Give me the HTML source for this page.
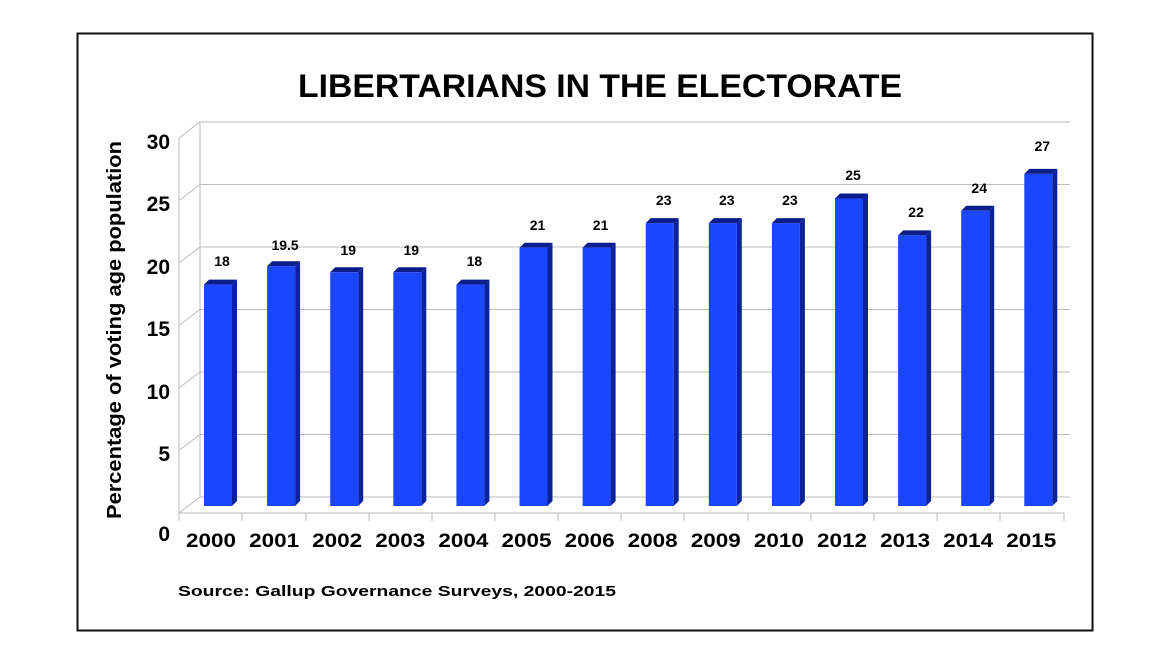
<!DOCTYPE html>
<html><head><meta charset="utf-8"><style>
html,body{margin:0;padding:0;background:#fff;}
svg{display:block;font-family:"Liberation Sans",sans-serif;font-weight:bold;}
</style></head><body>
<svg width="1170" height="663" viewBox="0 0 1170 663" xmlns="http://www.w3.org/2000/svg">
<rect x="77.5" y="33.5" width="1015" height="597" fill="#fff" stroke="#111" stroke-width="2"/>
<text x="600" y="97" font-size="32" text-anchor="middle" textLength="604" lengthAdjust="spacingAndGlyphs" font-weight="900">LIBERTARIANS IN THE ELECTORATE</text>
<g stroke="#bbb" stroke-width="1" fill="none">
<path d="M200 122H1070M200 184.5H1070M200 247H1070M200 309.5H1070M200 372H1070M200 434.5H1070M200 497H1070"/>
<path d="M200 122V497M179 513L200 497M179 138L200 122M179 200.5L200 184.5M179 263L200 247M179 325.5L200 309.5M179 388L200 372M179 450.5L200 434.5"/>
<path d="M179 513H1064M179 138V513"/>
<path d="M179 513v8M242 513v8M306 513v8M369 513v8M432 513v8M495 513v8M558 513v8M621 513v8M684 513v8M748 513v8M811 513v8M874 513v8M937 513v8M1000 513v8M1064 513v8"/>
</g>
<g font-size="21" text-anchor="end">
<text x="170" y="149">30</text><text x="170" y="211">25</text><text x="170" y="274">20</text><text x="170" y="336">15</text><text x="170" y="399">10</text><text x="170" y="461">5</text><text x="170" y="541">0</text>
</g>
<text transform="translate(121,330) rotate(-90)" font-size="20" text-anchor="middle" textLength="378" lengthAdjust="spacingAndGlyphs">Percentage of voting age population</text>

<g font-size="14" text-anchor="middle">
<g transform="translate(204,0)"><polygon points="28,284.6 33,279.6 33,501 28,506" fill="#0c2299"/><polygon points="0,284.6 5,279.6 33,279.6 28,284.6" fill="#0a1d8a"/><rect x="0" y="284.6" width="28" height="221.4" fill="#1b46ff"/><text x="18" y="266">18</text></g>
<g transform="translate(267.1,0)"><polygon points="28,266.2 33,261.2 33,501 28,506" fill="#0c2299"/><polygon points="0,266.2 5,261.2 33,261.2 28,266.2" fill="#0a1d8a"/><rect x="0" y="266.2" width="28" height="239.8" fill="#1b46ff"/><text x="18" y="250">19.5</text></g>
<g transform="translate(330.2,0)"><polygon points="28,272.3 33,267.3 33,501 28,506" fill="#0c2299"/><polygon points="0,272.3 5,267.3 33,267.3 28,272.3" fill="#0a1d8a"/><rect x="0" y="272.3" width="28" height="233.7" fill="#1b46ff"/><text x="18" y="255">19</text></g>
<g transform="translate(393.3,0)"><polygon points="28,272.3 33,267.3 33,501 28,506" fill="#0c2299"/><polygon points="0,272.3 5,267.3 33,267.3 28,272.3" fill="#0a1d8a"/><rect x="0" y="272.3" width="28" height="233.7" fill="#1b46ff"/><text x="18" y="255">19</text></g>
<g transform="translate(456.4,0)"><polygon points="28,284.6 33,279.6 33,501 28,506" fill="#0c2299"/><polygon points="0,284.6 5,279.6 33,279.6 28,284.6" fill="#0a1d8a"/><rect x="0" y="284.6" width="28" height="221.4" fill="#1b46ff"/><text x="18" y="266">18</text></g>
<g transform="translate(519.5,0)"><polygon points="28,247.7 33,242.7 33,501 28,506" fill="#0c2299"/><polygon points="0,247.7 5,242.7 33,242.7 28,247.7" fill="#0a1d8a"/><rect x="0" y="247.7" width="28" height="258.3" fill="#1b46ff"/><text x="18" y="230">21</text></g>
<g transform="translate(582.6,0)"><polygon points="28,247.7 33,242.7 33,501 28,506" fill="#0c2299"/><polygon points="0,247.7 5,242.7 33,242.7 28,247.7" fill="#0a1d8a"/><rect x="0" y="247.7" width="28" height="258.3" fill="#1b46ff"/><text x="18" y="230">21</text></g>
<g transform="translate(645.7,0)"><polygon points="28,223.1 33,218.1 33,501 28,506" fill="#0c2299"/><polygon points="0,223.1 5,218.1 33,218.1 28,223.1" fill="#0a1d8a"/><rect x="0" y="223.1" width="28" height="282.9" fill="#1b46ff"/><text x="18" y="205">23</text></g>
<g transform="translate(708.8,0)"><polygon points="28,223.1 33,218.1 33,501 28,506" fill="#0c2299"/><polygon points="0,223.1 5,218.1 33,218.1 28,223.1" fill="#0a1d8a"/><rect x="0" y="223.1" width="28" height="282.9" fill="#1b46ff"/><text x="18" y="205">23</text></g>
<g transform="translate(771.9,0)"><polygon points="28,223.1 33,218.1 33,501 28,506" fill="#0c2299"/><polygon points="0,223.1 5,218.1 33,218.1 28,223.1" fill="#0a1d8a"/><rect x="0" y="223.1" width="28" height="282.9" fill="#1b46ff"/><text x="18" y="205">23</text></g>
<g transform="translate(835,0)"><polygon points="28,198.5 33,193.5 33,501 28,506" fill="#0c2299"/><polygon points="0,198.5 5,193.5 33,193.5 28,198.5" fill="#0a1d8a"/><rect x="0" y="198.5" width="28" height="307.5" fill="#1b46ff"/><text x="18" y="180">25</text></g>
<g transform="translate(898.1,0)"><polygon points="28,235.4 33,230.4 33,501 28,506" fill="#0c2299"/><polygon points="0,235.4 5,230.4 33,230.4 28,235.4" fill="#0a1d8a"/><rect x="0" y="235.4" width="28" height="270.6" fill="#1b46ff"/><text x="18" y="217">22</text></g>
<g transform="translate(961.2,0)"><polygon points="28,210.8 33,205.8 33,501 28,506" fill="#0c2299"/><polygon points="0,210.8 5,205.8 33,205.8 28,210.8" fill="#0a1d8a"/><rect x="0" y="210.8" width="28" height="295.2" fill="#1b46ff"/><text x="18" y="193">24</text></g>
<g transform="translate(1024.3,0)"><polygon points="28,173.9 33,168.9 33,501 28,506" fill="#0c2299"/><polygon points="0,173.9 5,168.9 33,168.9 28,173.9" fill="#0a1d8a"/><rect x="0" y="173.9" width="28" height="332.1" fill="#1b46ff"/><text x="18" y="151">27</text></g>
</g>

<g font-size="19" text-anchor="middle">
<text x="211" y="547" textLength="50" lengthAdjust="spacingAndGlyphs">2000</text>
<text x="274.1" y="547" textLength="50" lengthAdjust="spacingAndGlyphs">2001</text>
<text x="337.2" y="547" textLength="50" lengthAdjust="spacingAndGlyphs">2002</text>
<text x="400.3" y="547" textLength="50" lengthAdjust="spacingAndGlyphs">2003</text>
<text x="463.4" y="547" textLength="50" lengthAdjust="spacingAndGlyphs">2004</text>
<text x="526.5" y="547" textLength="50" lengthAdjust="spacingAndGlyphs">2005</text>
<text x="589.6" y="547" textLength="50" lengthAdjust="spacingAndGlyphs">2006</text>
<text x="652.7" y="547" textLength="50" lengthAdjust="spacingAndGlyphs">2008</text>
<text x="715.8" y="547" textLength="50" lengthAdjust="spacingAndGlyphs">2009</text>
<text x="778.9" y="547" textLength="50" lengthAdjust="spacingAndGlyphs">2010</text>
<text x="842" y="547" textLength="50" lengthAdjust="spacingAndGlyphs">2012</text>
<text x="905.1" y="547" textLength="50" lengthAdjust="spacingAndGlyphs">2013</text>
<text x="968.2" y="547" textLength="50" lengthAdjust="spacingAndGlyphs">2014</text>
<text x="1031.3" y="547" textLength="50" lengthAdjust="spacingAndGlyphs">2015</text>
</g>
<text x="178" y="596" font-size="15" textLength="438" lengthAdjust="spacingAndGlyphs">Source: Gallup Governance Surveys, 2000-2015</text>
</svg>
</body></html>
